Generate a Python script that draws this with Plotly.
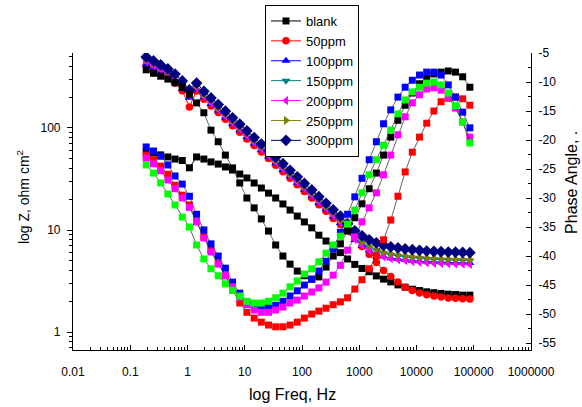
import plotly.graph_objects as go

# Frequencies (Hz)
FREQ = [0.19, 0.255, 0.34, 0.454, 0.605, 0.81, 1.08, 1.44, 1.93, 2.57, 3.44, 4.59,
        6.12, 8.18, 10.9, 14.6, 19.5, 26.0, 34.7, 46.4, 61.9, 82.7, 110, 148, 197,
        263, 351, 469, 626, 836, 1117, 1492, 1991, 2660, 3548, 4742, 6339, 8453,
        11300, 15070, 20140, 26900, 35890, 47970, 64030, 85500]

# Impedance modulus |Z| (ohm cm^2)
Z_BLANK = [58, 57, 54.5, 52, 49.6, 48, 40.7, 52, 49.6, 46.5, 44.3, 41.5, 38.7, 35.4,
           32.4, 28.9, 25.8, 23.0, 20.6, 18.0, 15.7, 13.7, 12.0, 10.5, 8.9, 7.8, 6.8,
           6.0, 5.2, 4.6, 4.2, 3.9, 3.55, 3.3, 3.1, 2.9, 2.75, 2.63, 2.55, 2.48, 2.43,
           2.39, 2.35, 2.33, 2.3, 2.3]
Z_50 = [410, 375, 342, 310, 275, 232, 161, 230, 191, 164, 142, 122, 105, 91, 78.2,
        67.4, 58.2, 50.1, 43.2, 37.3, 32.1, 27.7, 23.9, 20.6, 17.7, 15.3, 13.0, 11.3,
        9.9, 8.5, 6.9, 5.8, 4.8, 4.0, 3.5, 3.1, 2.75, 2.55, 2.42, 2.32, 2.25, 2.2,
        2.16, 2.14, 2.12, 2.11]
Z_100 = [420, 385, 352, 320, 285, 243, 198, 241, 200, 172, 148, 127, 110, 95.2, 81.8,
         70.5, 60.8, 52.4, 45.2, 39.0, 33.6, 29.0, 25.0, 21.6, 18.5, 16.0, 13.6, 11.7,
         9.6, 8.0, 7.0, 6.3, 5.85, 5.5, 5.3, 5.2, 5.1, 5.0, 4.95, 4.9, 4.86, 4.83,
         4.8, 4.78, 4.76, 4.75]
Z_150 = [462, 423, 386, 352, 312, 266, 216, 253, 210, 180, 156, 134, 115.6, 100, 85.8,
         74, 63.9, 55, 47.4, 41, 35.3, 30.4, 26.2, 22.6, 19.4, 16.7, 14.3, 12.2, 10.1,
         8.48, 7.49, 6.77, 6.29, 5.92, 5.70, 5.57, 5.45, 5.34, 5.28, 5.2, 5.15, 5.11,
         5.08, 5.05, 5.03, 5.0]
Z_200 = [445, 407, 372, 339, 302, 258, 211, 246, 204, 176, 152, 130, 112.5, 97.3,
         83.7, 72.1, 62.2, 53.6, 46.3, 39.9, 34.4, 29.6, 25.5, 22.0, 18.9, 16.3, 13.9,
         11.9, 9.72, 8.05, 7.02, 6.30, 5.80, 5.45, 5.23, 5.11, 5.0, 4.9, 4.83, 4.77,
         4.72, 4.69, 4.66, 4.64, 4.62, 4.6]
Z_250 = [470, 430, 393, 358, 318, 272, 222, 258, 214, 184, 159, 137, 118, 102, 87.6,
         75.5, 65.2, 56.1, 48.4, 41.8, 36.0, 31.0, 26.7, 23.1, 19.8, 17.1, 14.6, 12.6,
         10.4, 8.74, 7.72, 6.98, 6.48, 6.10, 5.88, 5.74, 5.62, 5.51, 5.44, 5.36, 5.31,
         5.27, 5.24, 5.21, 5.19, 5.16]
Z_300 = [497, 454, 415, 379, 338, 289, 236, 276, 229, 197, 170, 146, 126, 109, 93.7,
         80.7, 69.7, 60.0, 51.8, 44.7, 38.5, 33.2, 28.6, 24.7, 21.2, 18.3, 15.8, 13.7,
         11.5, 9.82, 8.77, 8.02, 7.49, 7.08, 6.84, 6.68, 6.53, 6.41, 6.32, 6.23, 6.17,
         6.13, 6.09, 6.06, 6.03, 6.0]

# Phase angle (degrees)
P_BLANK = [-7.9, -8.5, -9.0, -9.5, -10.1, -10.9, -12.1, -13.6, -15.3, -18.3, -20.3,
           -22.6, -24.8, -27.4, -30.0, -31.7, -33.6, -35.7, -38.1, -40.0, -41.4, -42.6,
           -43.4, -44.0, -43.6, -41.9, -40.0, -37.9, -35.7, -33.4, -31.0, -28.4, -25.7,
           -22.6, -19.5, -16.6, -14.0, -11.9, -10.3, -9.3, -8.6, -8.3, -8.1, -8.3,
           -9.1, -10.9]
P_50 = [-22.6, -23.4, -24.5, -25.9, -27.8, -29.5, -31.2, -34.1, -36.6, -39.0, -41.2,
        -43.4, -45.9, -48.1, -49.7, -50.7, -51.4, -51.9, -52.2, -52.2, -51.9, -51.4,
        -50.7, -50.0, -49.5, -49.0, -48.4, -47.9, -47.2, -45.7, -44.1, -42.2, -40.0,
        -37.2, -33.8, -29.7, -25.5, -22.1, -19.5, -17.1, -15.0, -13.4, -12.8, -12.6,
        -12.9, -14.0]
P_100 = [-21.2, -21.9, -22.8, -24.3, -26.2, -27.6, -29.7, -32.8, -35.5, -37.9, -40.0,
         -42.1, -44.5, -46.4, -47.9, -48.6, -48.9, -48.9, -48.5, -47.8, -46.9, -46.0,
         -45.0, -44.0, -42.6, -40.9, -38.8, -35.9, -32.8, -29.8, -26.6, -23.4, -20.3,
         -17.2, -14.8, -12.6, -10.9, -9.7, -8.8, -8.3, -8.3, -8.8, -10.5, -12.6,
         -15.2, -17.9]
P_150 = [-24.3, -25.7, -27.4, -29.3, -31.2, -33.3, -35.0, -38.1, -40.5, -42.2, -43.4,
         -44.8, -45.9, -46.9, -47.8, -48.1, -48.1, -47.8, -47.2, -46.4, -45.3, -44.3,
         -43.1, -42.2, -41.0, -39.5, -38.1, -36.6, -34.5, -32.1, -29.1, -26.0, -23.4,
         -20.9, -18.3, -15.5, -13.1, -11.7, -10.9, -10.2, -10.0, -10.5, -11.9, -14.1,
         -16.9, -20.5]
P_200 = [-23.1, -24.1, -25.3, -26.9, -28.4, -30.0, -31.6, -34.1, -36.9, -39.3, -41.4,
         -43.4, -45.3, -47.1, -48.4, -49.3, -49.7, -49.7, -49.3, -48.8, -48.1, -47.6,
         -46.9, -46.2, -45.5, -44.5, -43.3, -41.6, -39.0, -36.7, -34.1, -31.7, -29.1,
         -26.0, -22.6, -19.1, -16.0, -13.6, -12.2, -11.2, -11.0, -11.4, -12.6, -14.5,
         -16.9, -19.5]

# Axis tick labels
FREQ_TICKS = [0.01, 0.1, 1, 10, 100, 1000, 10000, 100000, 1000000]
FREQ_TICK_TEXT = ["0.01", "0.1", "1", "10", "100", "1000", "10000", "100000", "1000000"]
Z_TICKS = [1, 10, 100]
Z_TICK_TEXT = ["1", "10", "100"]
PHASE_TICKS = [-5, -10, -15, -20, -25, -30, -35, -40, -45, -50, -55]
PHASE_TICK_TEXT = ["-5", "-10", "-15", "-20", "-25", "-30", "-35", "-40", "-45",
                   "-50", "-55"]

SERIES = ["blank", "50ppm", "100ppm", "150ppm", "200ppm", "250ppm", "300ppm"]
Z_DATA = [Z_BLANK, Z_50, Z_100, Z_150, Z_200, Z_250, Z_300]
Z_COLORS = ["#000000", "#FF0000", "#0000FF", "#008080", "#FF00FF", "#808000", "#000080"]
Z_SYMBOLS = ["square", "circle", "triangle-up", "triangle-down", "triangle-left",
             "triangle-right", "diamond"]
Z_SIZES = [7, 7.5, 8, 8, 8, 8, 9]

PHASE_DATA = [P_BLANK, P_50, P_100, P_200, P_150]
PHASE_COLORS = ["#000000", "#FF0000", "#0000FF", "#FF00FF", "#00FF00"]

FONT = "Arial, Liberation Sans, sans-serif"

fig = go.Figure()

for name, z, col, sym, sz in zip(SERIES, Z_DATA, Z_COLORS, Z_SYMBOLS, Z_SIZES):
    fig.add_trace(go.Scatter(
        x=FREQ, y=z, name=name, mode="lines+markers",
        line=dict(color=col, width=1),
        marker=dict(symbol=sym, color=col, size=sz, line=dict(width=0)),
        yaxis="y",
    ))

for p, col in zip(PHASE_DATA, PHASE_COLORS):
    fig.add_trace(go.Scatter(
        x=FREQ, y=p, mode="lines+markers", showlegend=False,
        line=dict(color="#222222", width=0.7),
        marker=dict(symbol="square", color=col, size=7, line=dict(width=0)),
        yaxis="y2",
    ))

axis_common = dict(showline=True, linecolor="black", linewidth=1.2, showgrid=False,
                   zeroline=False, tickcolor="black", tickwidth=1,
                   tickfont=dict(family=FONT, size=12, color="black"))

fig.update_layout(
    width=582, height=407,
    margin=dict(l=73, r=51, t=53, b=57, autoexpand=False),
    paper_bgcolor="white", plot_bgcolor="white",
    font=dict(family=FONT, color="black"),
    showlegend=True,
    legend=dict(x=0.4192, y=1.1616, xanchor="left", yanchor="top",
                bgcolor="white", bordercolor="black", borderwidth=1,
                font=dict(family=FONT, size=13, color="black"),
                entrywidth=62, tracegroupgap=0),
    xaxis=dict(type="log", range=[-2, 6], tickmode="array", tickvals=FREQ_TICKS,
               ticktext=FREQ_TICK_TEXT, ticks="inside", ticklen=5,
               ticklabelstandoff=10,
               minor=dict(ticks="inside", ticklen=3, dtick="D1", tickcolor="black"),
               **axis_common),
    yaxis=dict(type="log", range=[-0.176, 2.735], tickmode="array", tickvals=Z_TICKS,
               ticktext=Z_TICK_TEXT, ticks="outside", ticklen=5, ticklabelstandoff=4,
               minor=dict(ticks="outside", ticklen=3, dtick="D1", tickcolor="black"),
               **axis_common),
    yaxis2=dict(overlaying="y", side="right", range=[-56.2, -5], tickmode="array",
                tickvals=PHASE_TICKS, ticktext=PHASE_TICK_TEXT,
                ticks="inside", ticklen=5, ticklabelstandoff=4,
                minor=dict(ticks="inside", ticklen=3, tick0=-5, dtick=2.5,
                           tickcolor="black"),
                **axis_common),
    annotations=[
        dict(text="log Freq, Hz", xref="paper", yref="paper", x=0.48, y=-0.1515,
             xanchor="center", yanchor="middle", showarrow=False,
             font=dict(family=FONT, size=16, color="black")),
        dict(text="log Z, ohm cm<sup>2</sup>", xref="paper", yref="paper", x=-0.109,
             y=0.515, xanchor="center", yanchor="middle", textangle=-90,
             showarrow=False, font=dict(family=FONT, size=14, color="black")),
        dict(text="Phase Angle, .", xref="paper", yref="paper", x=1.0895, y=0.566,
             xanchor="center", yanchor="middle", textangle=-90, showarrow=False,
             font=dict(family=FONT, size=16, color="black")),
    ],
)

fig.write_html("out.html")
